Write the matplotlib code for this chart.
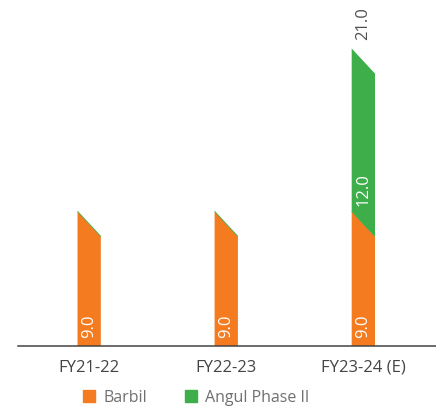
import matplotlib.pyplot as plt
import numpy as np
from matplotlib.patches import Patch

plt.rcParams["font.family"] = ["Open Sans", "DejaVu Sans"]

years = ["FY21-22", "FY22-23", "FY23-24 (E)"]
barbil = [9.0, 9.0, 9.0]
angul = [0.0, 0.0, 12.0]

orange = "#F47B20"
green = "#3DAE4A"

slant = 1.85      # drop of the chamfered top, in data units
width = 0.17

fig = plt.figure(figsize=(4.36, 4.09), dpi=100)
ax = fig.add_axes([0.041, 0.154, 0.959, 0.846])

x = np.arange(len(years))


def segment(xc, lo, hi, color, bottom_flat):
    # bar piece with a slanted top edge (left side higher)
    x0, x1 = xc - width / 2, xc + width / 2
    if bottom_flat:
        ys = [lo, lo, hi - slant / 2, hi + slant / 2]
    else:
        ys = [lo + slant / 2, lo - slant / 2, hi - slant / 2, hi + slant / 2]
    ax.fill([x0, x1, x1, x0], ys, color=color, lw=0)


for i, xc in enumerate(x):
    b = barbil[i]
    a = angul[i]
    segment(xc, 0, b, orange, True)
    # top edge line of the (possibly empty) second series
    ax.plot([xc - width / 2, xc + width / 2], [b + slant / 2, b - slant / 2],
            color=green, lw=0.6, solid_capstyle="butt")
    ax.text(xc, 0.6, f"{b:.1f}", rotation=90, ha="center", va="bottom",
            color="white", fontsize=12)
    if a > 0:
        segment(xc, b, b + a, green, False)
        ax.text(xc, b + 1.3, f"{a:.1f}", rotation=90, ha="center", va="bottom",
                color="white", fontsize=12)
        ax.text(xc, b + a + slant / 2 + 0.6, f"{b + a:.1f}", rotation=90,
                ha="center", va="bottom", color="#505050", fontsize=12)

ax.set_xlim(-0.52, 2.53)
ax.set_ylim(0, 25.5)
ax.set_xticks(x)
ax.set_xticklabels(years, fontsize=12, color="#444444")
ax.tick_params(axis="x", length=0, pad=10)
ax.set_yticks([])
for s in ["top", "right", "left"]:
    ax.spines[s].set_visible(False)
ax.spines["bottom"].set_color("#444444")
ax.spines["bottom"].set_linewidth(1.1)

handles = [Patch(color=orange, label="Barbil"),
           Patch(color=green, label="Angul Phase II")]
fig.legend(handles=handles, loc="center", bbox_to_anchor=(0.45, 0.028), ncol=2,
           frameon=False, fontsize=11.5, labelcolor="#707070",
           handlelength=0.75, handleheight=0.75, handletextpad=0.5, columnspacing=2.4)

fig.savefig("out.png", dpi=100)
